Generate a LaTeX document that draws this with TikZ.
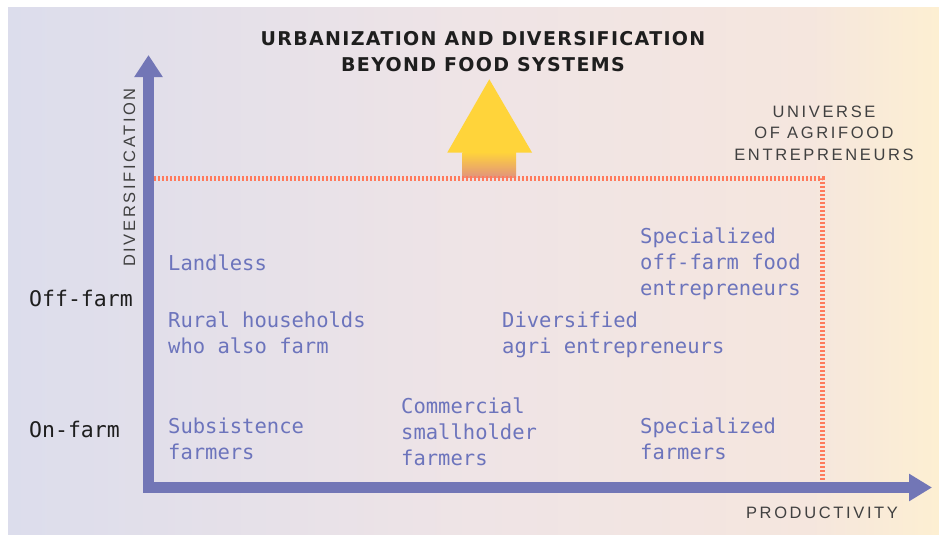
\documentclass[tikz,border=0pt]{standalone}
\usepackage{fontspec}
\setmainfont{DejaVu Sans}
\newfontfamily\labelfont{DejaVu Sans Mono}
\newfontfamily\axisfont[LetterSpace=16]{Liberation Sans}
\newfontfamily\titlefont[LetterSpace=7]{DejaVu Sans}
\usetikzlibrary{arrows.meta}
\definecolor{bgleft}{RGB}{220,221,236}
\definecolor{bgmid}{RGB}{239,228,230}
\definecolor{bgpeach}{RGB}{245,230,222}
\definecolor{bgright}{RGB}{253,239,210}
\definecolor{groupblue}{RGB}{108,116,188}
\definecolor{axisblue}{RGB}{114,118,182}
\definecolor{universe}{RGB}{255,122,92}
\definecolor{arrowtop}{RGB}{255,212,58}
\definecolor{arrowfoot}{RGB}{226,148,124}
\definecolor{ink}{RGB}{30,30,30}
\pgfdeclarehorizontalshading{bgfade}{100bp}{color(0bp)=(bgleft); color(25bp)=(bgleft);
  color(50bp)=(bgmid); color(68bp)=(bgpeach); color(75bp)=(bgright); color(100bp)=(bgright)}
\tikzset{
  grouplabel/.style={inner sep=0pt, anchor=base west, align=left, text=groupblue,
    font={\labelfont\fontsize{20.5}{26}\selectfont}},
  farmlabel/.style={inner sep=0pt, anchor=base west, text=ink,
    font={\labelfont\fontsize{21.5}{26}\selectfont}},
  axistext/.style={inner sep=0pt, anchor=base, align=center, text=ink!85,
    font={\axisfont\fontsize{16.5}{21.2}\selectfont}},
  headline/.style={inner sep=0pt, anchor=base, align=center, text=ink,
    font={\titlefont\bfseries\fontsize{19}{26}\selectfont}},
  axisline/.style={draw=axisblue, line width=11pt, line join=miter,
    {Triangle[width=27pt,length=22pt]}-{Triangle[width=26pt,length=23pt]}},
  universeline/.style={draw=universe, line width=5pt, dash pattern=on 2.3pt off 1.7pt}
}
\begin{document}
\begin{tikzpicture}[x=1pt,y=-1pt]
  \useasboundingbox (0,0) rectangle (939,535);
  \shade[shading=bgfade] (8,8) rectangle (939,535);

  \fill[arrowtop] (447.3,152.5) -- (489.3,79.3) -- (532,152.5) -- cycle;
  \shade[top color=arrowtop, bottom color=arrowfoot] (462.7,152) rectangle (516,177);

  \coordinate (origin) at (148.5,487.5);
  \coordinate (ytip) at (148.5,55);
  \coordinate (xtip) at (932,487.5);
  \coordinate (uleft) at (154,178);
  \coordinate (ucorner) at (822,178);
  \coordinate (ufoot) at (822,481);

  \draw[universeline] (uleft) -- (ucorner) -- (ufoot);
  \draw[axisline] (ytip) -- (origin) -- (xtip);

  \node[headline] (title) at (483,71) {URBANIZATION AND DIVERSIFICATION\\BEYOND FOOD SYSTEMS};
  \node[axistext] (universe) at (824,160) {UNIVERSE\\OF AGRIFOOD\\ENTREPRENEURS};
  \node[axistext] (productivity) at (822,518) {PRODUCTIVITY};
  \node[axistext, rotate=90] (diversification) at (135,177.5) {DIVERSIFICATION};

  \node[farmlabel] (offfarm) at (29,306) {Off-farm};
  \node[farmlabel] (onfarm) at (29,437) {On-farm};

  \node[grouplabel] (landless) at (168,270) {Landless};
  \node[grouplabel] (rural) at (168,353) {Rural households\\who also farm};
  \node[grouplabel] (subsistence) at (168,459) {Subsistence\\farmers};
  \node[grouplabel] (commercial) at (401,465) {Commercial\\smallholder\\farmers};
  \node[grouplabel] (diversified) at (502,353) {Diversified\\agri entrepreneurs};
  \node[grouplabel] (offfood) at (640,295) {Specialized\\off-farm food\\entrepreneurs};
  \node[grouplabel] (specialized) at (640,459) {Specialized\\farmers};
\end{tikzpicture}
\end{document}
